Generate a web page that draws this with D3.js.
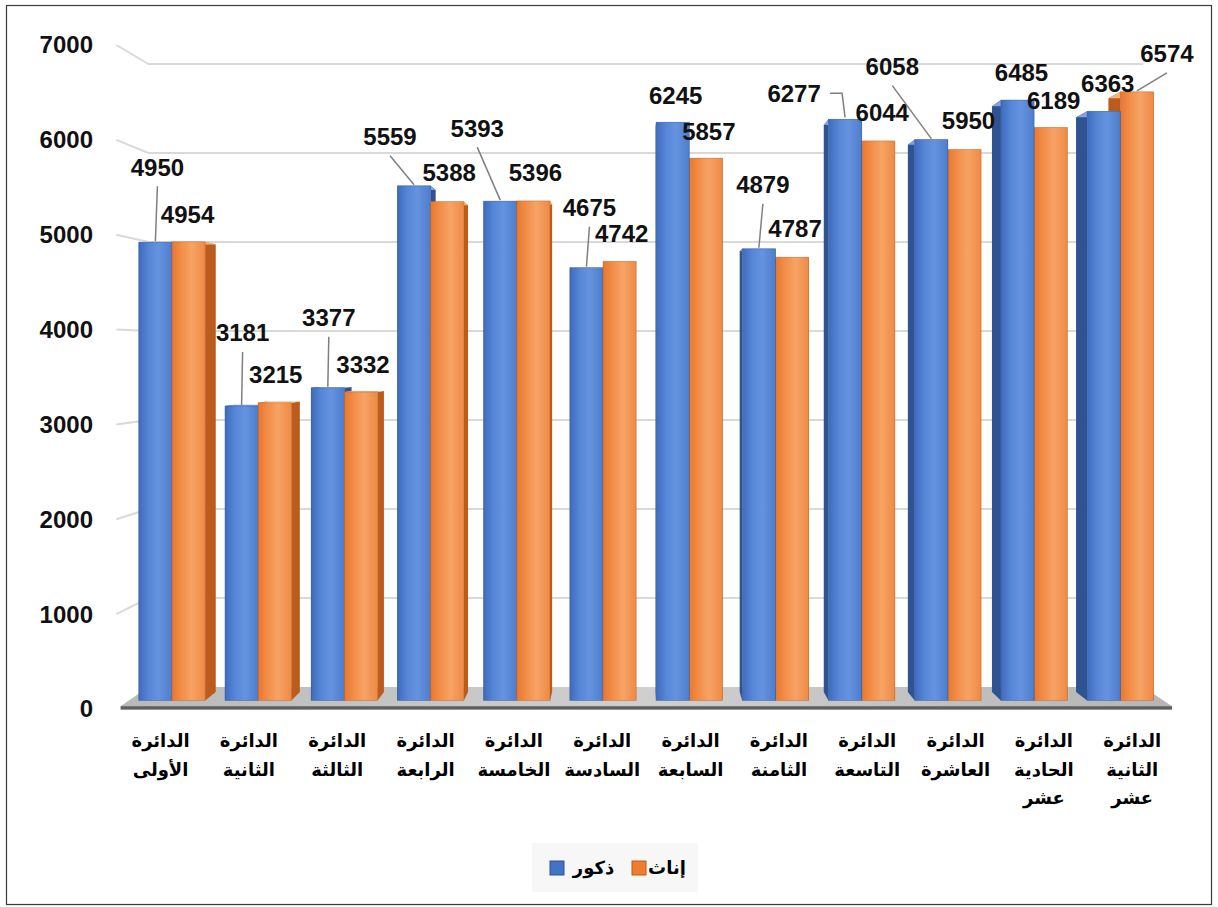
<!DOCTYPE html>
<html>
<head>
<meta charset="utf-8">
<script src="https://cdn.jsdelivr.net/npm/d3@7/dist/d3.min.js"></script>
<style>
  body { margin: 0; background: #fff; }
  svg { display: block; }
</style>
</head>
<body>
<div id="chart"></div>
<script>
// data
var categories = [
    ["الدائرة", "الأولى"],
    ["الدائرة", "الثانية"],
    ["الدائرة", "الثالثة"],
    ["الدائرة", "الرابعة"],
    ["الدائرة", "الخامسة"],
    ["الدائرة", "السادسة"],
    ["الدائرة", "السابعة"],
    ["الدائرة", "الثامنة"],
    ["الدائرة", "التاسعة"],
    ["الدائرة", "العاشرة"],
    ["الدائرة", "الحادية", "عشر"],
    ["الدائرة", "الثانية", "عشر"]
];
var males   = [4950, 3181, 3377, 5559, 5393, 4675, 6245, 4879, 6277, 6058, 6485, 6363];
var females = [4954, 3215, 3332, 5388, 5396, 4742, 5857, 4787, 6044, 5950, 6189, 6574];
var seriesNames = ["ذكور", "إناث"];
var yTicks = [0, 1000, 2000, 3000, 4000, 5000, 6000, 7000];

// label nudges (layout only, where Excel moved the labels)
var maleShift   = [[2,-75],[1,-73],[1,-70],[-24,-49],[-23,-73],[3,-60],[3,-27],[4,-64],[-51,-26],[-39,-73],[4,-27],[4,-28]];
var femaleShift = [[-1,-27],[1,-28],[2,-27],[2,-29],[2,-28],[2,-28],[3,-27],[3,-29],[4,-28],[4,-29],[3,-27],[30,-38]];

function init() {
    var w = 1218, h = 907;
    var vp = {x: 636, y: 353};     // vanishing point of the 3d view
    var tWall = 0.0617, tFront = 0.024, tBack = 0.048;

    function proj(X, Y, t) {
        return [X + (vp.x - X) * t, Y + (vp.y - Y) * t];
    }

    var svg = d3.select("#chart").append("svg")
        .attr("width", w)
        .attr("height", h)
        .style("font-family", "Arial, 'Liberation Sans', 'DejaVu Sans', sans-serif");

    var defs = svg.append("defs");
    var grads = [
        {id: "gBlue", stops: [[0, "#3f6bbd"], [0.3, "#5686d7"], [0.6, "#6593e0"], [1, "#4e7dcc"]]},
        {id: "gOrange", stops: [[0, "#e8772f"], [0.3, "#f28f4a"], [0.6, "#f7a365"], [1, "#ee8a45"]]},
        {id: "gFloor", stops: [[0, "#b9b9b9"], [0.5, "#cfcfcf"], [1, "#b5b5b5"]]}
    ];
    grads.forEach(function(g) {
        var lg = defs.append("linearGradient").attr("id", g.id);
        g.stops.forEach(function(s) {
            lg.append("stop").attr("offset", s[0]).attr("stop-color", s[1]);
        });
    });

    var yScale = d3.scaleLinear().domain([0, 7000]).range([709, 45]);
    var xScale = d3.scaleBand().domain(d3.range(categories.length)).range([116.4, 1176.4]);
    var xSub = d3.scaleBand().domain([0, 1]).range([0, xScale.bandwidth()]).paddingOuter(0.299);

    var X0 = 116.4, X1 = 1176.4;

    // outer border
    svg.append("rect")
        .attr("x", 6.5).attr("y", 5.5)
        .attr("width", 1205).attr("height", 899)
        .attr("fill", "none")
        .attr("stroke", "#3a3a3a")
        .attr("stroke-width", 1.2);

    // gridlines on side wall + back wall
    var line = d3.line();
    svg.selectAll(".grid")
        .data(yTicks.filter(function(d) { return d > 0; }))
        .enter()
        .append("path")
        .attr("class", "grid")
        .attr("d", function(d) {
            return line([proj(X0, yScale(d), 0), proj(X0, yScale(d), tWall), proj(X1, yScale(d), tWall)]);
        })
        .attr("fill", "none")
        .attr("stroke", "#d9d9d9")
        .attr("stroke-width", 2);

    // y tick labels
    svg.selectAll(".ytick")
        .data(yTicks)
        .enter()
        .append("text")
        .attr("class", "ytick")
        .attr("x", 93)
        .attr("y", function(d) { return yScale(d); })
        .attr("dy", "0.35em")
        .attr("text-anchor", "end")
        .attr("font-size", 24)
        .attr("font-weight", "bold")
        .attr("fill", "#111")
        .text(function(d) { return d; });

    // floor
    var y0 = yScale(0);
    svg.append("path")
        .attr("d", line([proj(X0, y0, tWall), proj(X1, y0, tWall), proj(X1, y0, 0.008), proj(X0, y0, 0.008)]) + "Z")
        .attr("fill", "url(#gFloor)");
    var fl = proj(X0, y0, 0.008), fr = proj(X1, y0, 0.008);
    svg.append("rect")
        .attr("x", fl[0]).attr("y", fl[1])
        .attr("width", fr[0] - fl[0]).attr("height", 3.5)
        .attr("fill", "#5f5f5f");

    // bars
    var bars = [];
    categories.forEach(function(c, i) {
        bars.push({i: i, s: 0, v: males[i], shift: maleShift[i]});
        bars.push({i: i, s: 1, v: females[i], shift: femaleShift[i]});
    });
    bars.forEach(function(b) {
        b.xa = xScale(b.i) + xSub(b.s);
        b.xb = b.xa + xSub.bandwidth();
        b.yt = yScale(b.v);
    });
    var order = bars.slice().sort(function(a, b) {
        return Math.abs((b.xa + b.xb) / 2 - vp.x) - Math.abs((a.xa + a.xb) / 2 - vp.x);
    });

    var sideCol = ["#2f5391", "#b95c1e"];
    var topCol = ["#7fa3e6", "#f9b47e"];
    var gBars = svg.append("g");
    order.forEach(function(b) {
        var g = gBars.append("g");
        var left = [proj(b.xa, b.yt, tFront), proj(b.xa, b.yt, tBack), proj(b.xa, y0, tBack), proj(b.xa, y0, tFront)];
        var right = [proj(b.xb, b.yt, tFront), proj(b.xb, b.yt, tBack), proj(b.xb, y0, tBack), proj(b.xb, y0, tFront)];
        var top = [proj(b.xa, b.yt, tFront), proj(b.xb, b.yt, tFront), proj(b.xb, b.yt, tBack), proj(b.xa, b.yt, tBack)];
        [left, right].forEach(function(f) {
            g.append("path").attr("d", line(f) + "Z").attr("fill", sideCol[b.s]);
        });
        g.append("path").attr("d", line(top) + "Z").attr("fill", topCol[b.s]);
        var p0 = proj(b.xa, b.yt, tFront), p1 = proj(b.xb, y0, tFront);
        g.append("rect")
            .attr("x", p0[0]).attr("y", p0[1])
            .attr("width", p1[0] - p0[0]).attr("height", p1[1] - p0[1])
            .attr("fill", b.s === 0 ? "url(#gBlue)" : "url(#gOrange)")
            .attr("stroke", sideCol[b.s])
            .attr("stroke-opacity", 0.5)
            .attr("stroke-width", 0.8);
    });

    // data labels + leader lines
    bars.forEach(function(b) {
        var top = proj((b.xa + b.xb) / 2, b.yt, tFront);
        var lx = top[0] + b.shift[0], ly = top[1] + b.shift[1];
        var dist = Math.sqrt(b.shift[0] * b.shift[0] + b.shift[1] * b.shift[1]);
        if (dist > 45) {
            var pts;
            if (Math.abs(b.shift[1]) < 35 && b.shift[0] < 0) {
                pts = [[lx + 36, ly], [top[0] - 3, ly], [top[0], top[1] - 2]];
            } else {
                pts = [[lx, ly + 19], [top[0], top[1] - 1]];
            }
            svg.append("path")
                .attr("d", line(pts))
                .attr("fill", "none")
                .attr("stroke", "#7f7f7f")
                .attr("stroke-width", 1.5);
        }
        svg.append("text")
            .attr("x", lx)
            .attr("y", ly)
            .attr("dy", "0.35em")
            .attr("text-anchor", "middle")
            .attr("font-size", 24)
            .attr("font-weight", "bold")
            .attr("fill", "#111")
            .text(b.v);
    });

    // category labels
    var cat = svg.selectAll(".cat")
        .data(categories)
        .enter()
        .append("text")
        .attr("class", "cat")
        .attr("text-anchor", "middle")
        .attr("font-size", 18)
        .attr("font-weight", "bold")
        .attr("fill", "#000");
    cat.selectAll("tspan")
        .data(function(d, i) { return d.map(function(s) { return {s: s, i: i}; }); })
        .enter()
        .append("tspan")
        .attr("x", function(d) { return xScale(d.i) + xScale.bandwidth() / 2; })
        .attr("y", function(d, j) { return 741 + j * 28.5; })
        .attr("dy", "0.35em")
        .text(function(d) { return d.s; });

    // legend
    var lg = svg.append("g");
    lg.append("rect")
        .attr("x", 532).attr("y", 843)
        .attr("width", 166).attr("height", 49)
        .attr("fill", "#f7f7f7");
    var legItems = [
        {name: seriesNames[0], sx: 550, tx: 593.5, fill: "#4472c4", stroke: "#2f528f"},
        {name: seriesNames[1], sx: 632, tx: 667, fill: "#ed7d31", stroke: "#c55a11"}
    ];
    legItems.forEach(function(d) {
        lg.append("rect")
            .attr("x", d.sx).attr("y", 861)
            .attr("width", 14).attr("height", 14)
            .attr("fill", d.fill)
            .attr("stroke", d.stroke);
        lg.append("text")
            .attr("x", d.tx).attr("y", 868)
            .attr("dy", "0.35em")
            .attr("text-anchor", "middle")
            .attr("font-size", 18)
            .attr("font-weight", "bold")
            .attr("fill", "#000")
            .text(d.name);
    });
}

window.onload = init;
</script>
</body>
</html>
